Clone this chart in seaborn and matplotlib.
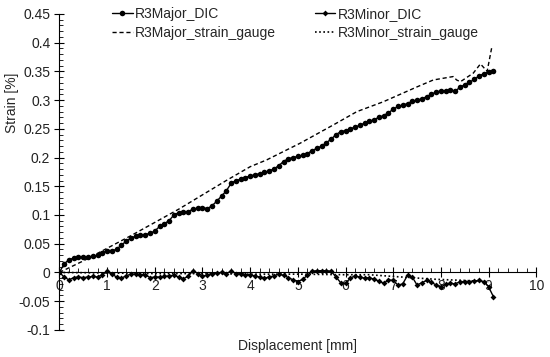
import numpy as np
import matplotlib
matplotlib.use("Agg")
import matplotlib.pyplot as plt
from matplotlib.ticker import MultipleLocator
import seaborn as sns

# displacement sampled every 0.1 mm, 0 .. 9.1
disp = np.round(np.arange(0, 9.15, 0.1), 2)

major_dic = [
    0.000, 0.015, 0.022, 0.025, 0.026, 0.027, 0.027, 0.028, 0.030, 0.034,
    0.038, 0.038, 0.040, 0.048, 0.054, 0.060, 0.063, 0.065, 0.066, 0.068,
    0.072, 0.080, 0.085, 0.090, 0.100, 0.104, 0.105, 0.106, 0.110, 0.112,
    0.113, 0.111, 0.116, 0.124, 0.133, 0.142, 0.155, 0.160, 0.162, 0.165,
    0.168, 0.170, 0.172, 0.174, 0.177, 0.180, 0.186, 0.193, 0.198, 0.200,
    0.202, 0.204, 0.207, 0.212, 0.216, 0.220, 0.226, 0.232, 0.240, 0.245,
    0.247, 0.250, 0.253, 0.256, 0.260, 0.263, 0.266, 0.270, 0.273, 0.278,
    0.284, 0.289, 0.291, 0.294, 0.298, 0.300, 0.302, 0.306, 0.310, 0.314,
    0.316, 0.316, 0.317, 0.316, 0.322, 0.327, 0.331, 0.336, 0.342, 0.346,
    0.349, 0.351,
]

minor_dic = [
    0.000, -0.008, -0.013, -0.009, -0.008, -0.009, -0.008, -0.007, -0.008, -0.004,
    0.002, -0.003, -0.008, -0.010, -0.006, -0.003, -0.003, -0.004, -0.004, -0.009,
    -0.008, -0.008, -0.007, -0.006, -0.005, -0.008, -0.011, -0.007, 0.003, -0.002,
    -0.006, -0.005, -0.003, -0.001, 0.000, -0.002, 0.002, -0.002, -0.003, -0.004,
    -0.004, -0.006, -0.008, -0.010, -0.008, -0.006, -0.003, -0.005, -0.009, -0.013,
    -0.016, -0.012, -0.005, 0.002, 0.003, 0.003, 0.003, 0.002, -0.008, -0.018,
    -0.019, -0.010, -0.006, -0.008, -0.010, -0.009, -0.012, -0.015, -0.019, -0.013,
    -0.014, -0.022, -0.020, -0.005, -0.008, -0.022, -0.018, -0.014, -0.017, -0.022,
    -0.026, -0.020, -0.019, -0.020, -0.016, -0.016, -0.016, -0.015, -0.014, -0.016,
    -0.025, -0.042,
]

# strain gauge readings
gauge_disp = [0, 0.5, 1.0, 1.5, 2.0, 2.5, 3.0, 3.5, 4.0, 4.35, 5.05, 5.75, 6.24,
              6.79, 7.5, 7.84, 8.26, 8.33, 8.41, 8.68, 8.83, 8.97, 9.07]
major_gauge = [0, 0.020, 0.042, 0.064, 0.087, 0.110, 0.135, 0.160, 0.184, 0.196,
               0.225, 0.257, 0.280, 0.297, 0.323, 0.335, 0.341, 0.335, 0.332,
               0.347, 0.363, 0.350, 0.393]
minor_gauge_disp = [0, 1.0, 2.0, 3.0, 4.0, 5.0, 6.0, 6.5, 7.0, 7.9, 8.5, 9.0]
minor_gauge = [0, -0.001, -0.002, -0.002, -0.003, -0.003, -0.004, -0.004,
               -0.007, -0.012, -0.014, -0.016]

sns.set_style("white")
plt.rcParams["font.family"] = ["Liberation Sans", "DejaVu Sans"]
plt.rcParams["font.size"] = 10

fig = plt.figure(figsize=(5.5, 3.57), dpi=100)
ax = fig.add_axes([0.108, 0.076, 0.867, 0.885])

sns.lineplot(x=disp, y=major_dic, ax=ax, color="black", marker="o",
             markersize=4, markeredgewidth=0, linewidth=1, label="R3Major_DIC")
sns.lineplot(x=gauge_disp, y=major_gauge, ax=ax, color="black",
             linewidth=1, label="R3Major_strain_gauge")
ax.lines[-1].set_linestyle((0, (3, 2)))
sns.lineplot(x=disp, y=minor_dic, ax=ax, color="black", marker="D",
             markersize=3, markeredgewidth=0, linewidth=1, label="R3Minor_DIC")
sns.lineplot(x=minor_gauge_disp, y=minor_gauge, ax=ax, color="black",
             linewidth=1.2, label="R3Minor_strain_gauge")
ax.lines[-1].set_linestyle((0, (1, 1.5)))

ax.set_xlim(0, 10)
ax.set_ylim(-0.1, 0.45)
ax.spines["top"].set_visible(False)
ax.spines["right"].set_visible(False)
ax.spines["bottom"].set_position(("data", 0))
for s in ["left", "bottom"]:
    ax.spines[s].set_color("black")
    ax.spines[s].set_linewidth(0.8)

ax.xaxis.set_minor_locator(MultipleLocator(0.2))
ax.yaxis.set_minor_locator(MultipleLocator(0.01))
ax.set_yticks(np.arange(-0.1, 0.451, 0.05))
ax.set_yticklabels(["-0.1", "-0.05", "0", "0.05", "0.1", "0.15", "0.2",
                    "0.25", "0.3", "0.35", "0.4", "0.45"])
ax.set_xticks(range(0, 11))
ax.set_xticklabels([str(i) for i in range(0, 11)])

ax.tick_params(axis="both", which="both", bottom=True, left=True)
ax.tick_params(axis="both", which="major", direction="inout", length=7,
               width=0.8, color="black", labelsize=10, labelcolor="#222222")
ax.tick_params(axis="both", which="minor", direction="in", length=3,
               width=0.6, color="black")
ax.tick_params(axis="x", which="major", pad=1)
ax.tick_params(axis="y", which="major", pad=3)

ax.set_xlabel("Displacement [mm]", fontsize=10)
ax.set_ylabel("Strain [%]", fontsize=10)
ax.xaxis.set_label_coords(0.5, -0.03)
ax.yaxis.set_label_coords(-0.085, 0.72)

handles, labels = ax.get_legend_handles_labels()
ax.legend(handles, labels,
          ncol=2, frameon=False, loc="upper left",
          bbox_to_anchor=(0.11, 1.022), borderaxespad=0, borderpad=0,
          handlelength=1.5, handletextpad=0.15, columnspacing=2.8,
          labelspacing=0.35, fontsize=10)

fig.savefig("out.png", dpi=100)
